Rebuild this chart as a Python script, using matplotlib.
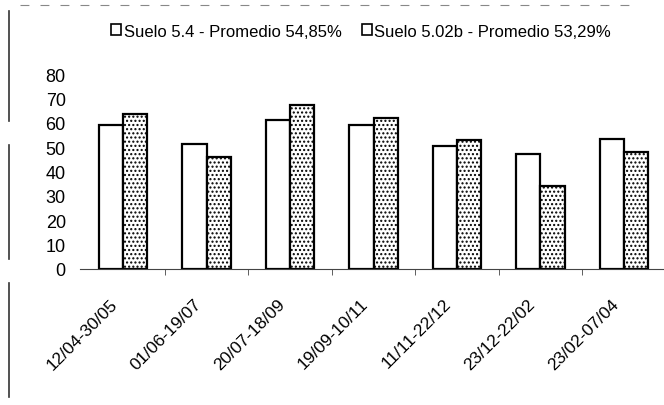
import numpy as np
import matplotlib.pyplot as plt
from matplotlib.lines import Line2D
from matplotlib.transforms import ScaledTranslation

periodos = ['12/04-30/05', '01/06-19/07', '20/07-18/09', '19/09-10/11',
            '11/11-22/12', '23/12-22/02', '23/02-07/04']
suelo_54 = [59, 51.5, 61, 59, 50.5, 47, 53.5]
suelo_502b = [63.5, 46, 67.5, 62, 53, 34, 48]
etiquetas = ['Suelo 5.4 - Promedio 54,85%', 'Suelo 5.02b - Promedio 53,29%']

plt.rcParams['font.family'] = ['Liberation Sans', 'DejaVu Sans']
plt.rcParams['hatch.color'] = '#555555'

fig = plt.figure(figsize=(6.64, 4.06), dpi=100)
ax = fig.add_axes([0.12, 0.335, 0.885, 0.48])

x = np.arange(len(periodos))
w = 0.29
ax.bar(x - w / 2, suelo_54, w, facecolor='white', edgecolor='black', linewidth=1.6)
ax.bar(x + w / 2, suelo_502b, w, facecolor='white', edgecolor='black', linewidth=1.6,
       hatch='....')

ax.set_xlim(-0.52, len(periodos) - 0.48)
ax.set_ylim(0, 80)
ax.set_yticks(range(0, 81, 10))
ax.tick_params(axis='y', length=0, labelsize=13, pad=10)
ax.set_xticks(x)
ax.set_xticklabels(periodos, rotation=45, ha='right', va='center',
                   rotation_mode='anchor', fontsize=12.5)
ax.tick_params(axis='x', length=0, pad=23)
shift = ScaledTranslation(-8 / 100, 0, fig.dpi_scale_trans)
for lab in ax.get_xticklabels():
    lab.set_transform(lab.get_transform() + shift)
ax.set_xticks(np.arange(0.5, len(periodos) - 0.5), minor=True)
ax.tick_params(axis='x', which='minor', length=4, color='#444444')
for s in ['top', 'right', 'left']:
    ax.spines[s].set_visible(False)
ax.spines['bottom'].set_color('#444444')

handles = [plt.Rectangle((0, 0), 1, 1, facecolor='white', edgecolor='black', linewidth=1.2)
           for _ in etiquetas]
fig.legend(handles, etiquetas, loc='center', bbox_to_anchor=(0.544, 0.921), ncol=2,
           frameon=False, fontsize=12, handlelength=0.6, handleheight=0.6,
           handletextpad=0.15, columnspacing=1.2)

# left border of the scanned page
for y0, y1 in [(0.97, 0.70), (0.64, 0.36), (0.30, 0.02)]:
    fig.add_artist(Line2D([0.013, 0.013], [y0, y1], color='#333333', linewidth=1.2))
fig.add_artist(Line2D([0.03, 0.95], [0.985, 0.985], color='#888888', linewidth=0.8,
                      linestyle=(0, (8, 10))))

fig.savefig('out.png', dpi=100)
